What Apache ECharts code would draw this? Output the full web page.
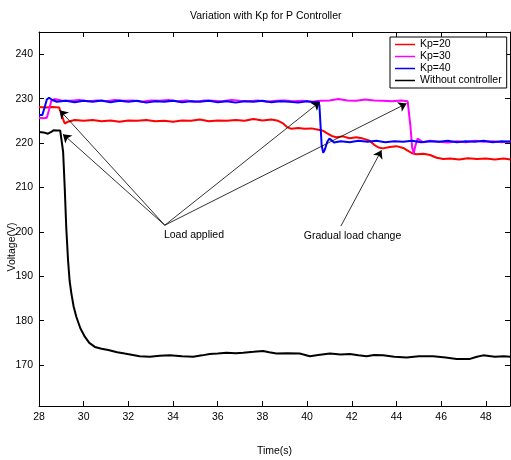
<!DOCTYPE html>
<html><head><meta charset="utf-8">
<script src="https://cdn.jsdelivr.net/npm/echarts@6/dist/echarts.min.js"></script>
<style>html,body{margin:0;padding:0;background:#fff}#c{width:511px;height:460px}</style>
</head><body><div id="c"></div>
<script>
const xTicks = [28,30,32,34,36,38,40,42,44,46,48];
const seriesNames = ['Kp=20','Kp=30','Kp=40','Without controller'];
const kp20 = [[28.0,228.1],[28.3,228.0],[28.6,228.1],[28.9,228.0],[29.0,226.5],[29.15,224.4],[29.3,224.8],[29.6,225.2],[30.0,225.0],[30.4,225.2],[30.8,224.9],[31.2,225.1],[31.6,224.8],[32.0,225.1],[32.4,225.0],[32.8,225.2],[33.2,224.9],[33.6,225.0],[34.0,224.8],[34.4,225.1],[34.8,225.0],[35.2,225.3],[35.6,224.9],[36.0,225.1],[36.4,225.0],[36.8,225.2],[37.2,225.0],[37.6,225.4],[38.0,225.1],[38.4,225.3],[38.7,225.0],[38.9,224.5],[39.1,223.6],[39.3,223.2],[39.6,223.4],[39.9,223.2],[40.2,223.3],[40.5,223.0],[40.7,222.8],[40.9,222.2],[41.1,221.6],[41.3,221.3],[41.6,221.5],[41.9,221.1],[42.2,221.3],[42.5,221.0],[42.8,220.5],[43.0,219.6],[43.2,219.0],[43.4,218.8],[43.7,219.1],[44.0,219.3],[44.3,218.9],[44.5,218.3],[44.7,217.7],[44.9,217.5],[45.2,217.6],[45.5,217.3],[45.8,216.7],[46.1,216.4],[46.4,216.5],[46.8,216.3],[47.2,216.6],[47.6,216.4],[48.0,216.5],[48.4,216.3],[48.8,216.5],[49.1,216.3]];
const kp30 = [[28.0,225.7],[28.2,225.6],[28.35,225.7],[28.45,227.5],[28.55,229.5],[28.7,229.9],[29.0,229.6],[29.4,229.5],[29.8,229.7],[30.2,229.4],[30.6,229.6],[31.0,229.4],[31.4,229.7],[31.8,229.5],[32.2,229.6],[32.6,229.3],[33.0,229.6],[33.4,229.5],[33.8,229.7],[34.2,229.4],[34.6,229.6],[35.0,229.3],[35.4,229.6],[35.8,229.5],[36.2,229.4],[36.6,229.7],[37.0,229.5],[37.4,229.4],[37.8,229.6],[38.2,229.3],[38.6,229.5],[39.0,229.6],[39.4,229.4],[39.8,229.5],[40.2,229.3],[40.6,229.5],[41.0,229.6],[41.4,229.9],[41.8,229.6],[42.2,229.5],[42.6,229.8],[43.0,229.6],[43.4,229.5],[43.8,229.4],[44.2,229.6],[44.5,229.4],[44.55,229.0],[44.62,224.0],[44.7,219.0],[44.77,217.7],[44.85,219.5],[44.95,221.0],[45.05,220.6],[45.2,220.2],[45.5,220.5],[45.9,220.3],[46.3,220.1],[46.7,220.4],[47.1,220.2],[47.5,220.5],[47.9,220.3],[48.3,220.4],[48.7,220.2],[49.1,220.4]];
const kp40 = [[28.0,226.3],[28.15,226.3],[28.25,228.0],[28.35,229.8],[28.45,230.2],[28.6,229.7],[28.8,229.3],[29.2,229.5],[29.6,229.2],[30.0,229.5],[30.4,229.3],[30.8,229.6],[31.2,229.2],[31.6,229.5],[32.0,229.3],[32.4,229.5],[32.8,229.1],[33.2,229.4],[33.6,229.3],[34.0,229.5],[34.4,229.2],[34.8,229.4],[35.2,229.3],[35.6,229.5],[36.0,229.2],[36.4,229.4],[36.8,229.1],[37.2,229.4],[37.6,229.3],[38.0,229.5],[38.4,229.2],[38.8,229.4],[39.2,229.3],[39.6,229.1],[40.0,229.4],[40.3,229.2],[40.5,229.3],[40.55,228.5],[40.6,224.0],[40.65,219.5],[40.72,217.8],[40.8,218.6],[40.9,220.3],[41.0,221.0],[41.1,220.6],[41.2,220.1],[41.5,220.4],[41.9,220.2],[42.3,220.5],[42.7,220.3],[43.1,220.5],[43.5,220.2],[43.9,220.4],[44.3,220.3],[44.7,220.5],[45.1,220.2],[45.5,220.4],[45.9,220.3],[46.3,220.5],[46.7,220.2],[47.1,220.4],[47.5,220.3],[47.9,220.5],[48.3,220.2],[48.7,220.4],[49.1,220.3]];
const noCtrl = [[28.0,222.5],[28.2,222.4],[28.4,222.1],[28.55,222.5],[28.65,222.9],[28.8,222.8],[28.95,222.8],[29.0,222.6],[29.08,218.0],[29.15,210.1],[29.22,201.0],[29.3,193.6],[29.37,189.0],[29.45,186.1],[29.55,183.2],[29.67,180.9],[29.85,178.3],[30.05,176.4],[30.25,175.0],[30.5,174.1],[30.8,173.7],[31.1,173.4],[31.5,172.9],[31.84,172.6],[32.2,172.3],[32.5,172.0],[32.96,171.9],[33.4,172.1],[33.85,172.25],[34.4,172.0],[34.9,171.9],[35.3,172.2],[35.64,172.5],[36.0,172.6],[36.39,172.8],[36.8,172.7],[37.14,172.8],[37.6,173.0],[38.03,173.2],[38.3,172.9],[38.63,172.6],[39.1,172.7],[39.67,172.6],[40.12,172.0],[40.5,172.3],[41.02,172.6],[41.5,172.4],[41.91,172.5],[42.3,172.2],[42.66,172.0],[43.0,172.3],[43.4,172.2],[43.9,171.9],[44.45,171.7],[45.0,172.0],[45.64,172.0],[46.2,171.7],[46.69,171.4],[47.29,171.4],[47.6,171.9],[47.88,172.2],[48.4,171.9],[48.8,172.0],[49.1,171.9]];
const arrows = [
  [[33.63,201.5],[28.93,227.4]],
  [[33.63,201.5],[29.07,222.0]],
  [[33.63,201.5],[40.57,229.26]],
  [[33.63,201.5],[44.45,228.9]],
  [[41.51,201.3],[43.33,218.4]]
];
const notes = [
  {text:'Load applied', at:[33.59,199.3]},
  {text:'Gradual load change', at:[39.85,199.0]}
];
const colors = ['#ff0000','#ff00ff','#0000ff','#000000'];
const dataSets = [kp20,kp30,kp40,noCtrl];
const FONT = 'Liberation Sans, Arial, Helvetica, sans-serif';
const FS = 10.5;

const chart = echarts.init(document.getElementById('c'), null, {renderer:'canvas'});
const series = dataSets.map((d,i)=>({
  name: seriesNames[i], type:'line', data:d, symbol:'none', showSymbol:false,
  lineStyle:{color:colors[i], width:2}, itemStyle:{color:colors[i]},
  animation:false, silent:true, z: 2+i
}));
series[3].markLine = {
  silent:true, animation:false, symbol:['none','arrow'], symbolSize:8,
  lineStyle:{color:'#000', width:0.8, type:'solid'}, itemStyle:{color:'#000'}, label:{show:false},
  data: arrows.map(a=>[{coord:a[0]},{coord:a[1]}])
};
series[3].markPoint = {
  silent:true, animation:false, symbol:'circle', symbolSize:0,
  data: notes.map(n=>({coord:n.at, value:n.text,
    label:{show:true, position:'right', distance:0, formatter:n.text, color:'#000', fontSize:FS, fontFamily:FONT}}))
};
const axisCommon = {axisLine:{show:true, lineStyle:{color:'#000', width:1}}, splitLine:{show:false}};
chart.setOption({
  animation:false,
  backgroundColor:'#fff',
  title:{text:'Variation with Kp for P Controller', left:190, top:11, padding:0,
    textStyle:{fontSize:FS, fontWeight:'normal', color:'#000', fontFamily:FONT}},
  legend:{data:seriesNames, orient:'vertical', left:390, top:37, icon:'rect', itemWidth:20, itemHeight:1.5, itemGap:0,
    padding:[1.5,5,1.5,5], borderColor:'#000', borderWidth:1, backgroundColor:'#fff',
    textStyle:{fontSize:FS, lineHeight:12, color:'#000', fontFamily:FONT}, selectedMode:false},
  grid:{left:39, right:1, top:32, bottom:54, containLabel:false, outerBoundsMode:'none'},
  xAxis:[
    Object.assign({type:'value', position:'bottom', min:28, max:49.08, interval:2,
      name:'Time(s)', nameLocation:'middle', nameGap:40, nameMoveOverlap:false,
      nameTextStyle:{fontSize:FS, color:'#000', fontFamily:FONT},
      axisTick:{inside:true, length:5, lineStyle:{color:'#000'}},
      axisLabel:{margin:6, fontSize:FS, color:'#000', fontFamily:FONT, showMaxLabel:false,
        formatter:v=> xTicks.indexOf(v)>=0 ? String(v) : ''}}, axisCommon),
    Object.assign({type:'value', position:'top', min:28, max:49.08, interval:2,
      axisTick:{inside:true, length:5, lineStyle:{color:'#000'}}, axisLabel:{show:false}}, axisCommon)
  ],
  yAxis:[
    Object.assign({type:'value', position:'left', min:160.8, max:245, splitNumber:8,
      name:'Voltage(V)', nameLocation:'middle', nameGap:21, nameMoveOverlap:false,
      nameTextStyle:{fontSize:FS, color:'#000', fontFamily:FONT, padding:[0,56,0,0]},
      axisTick:{inside:true, length:5, lineStyle:{color:'#000'}},
      axisLabel:{margin:6, fontSize:FS, color:'#000', fontFamily:FONT, showMinLabel:false, showMaxLabel:false,
        formatter:v=> (v%10===0) ? String(v) : ''}}, axisCommon),
    Object.assign({type:'value', position:'right', min:160.8, max:245, splitNumber:8,
      axisTick:{inside:true, length:5, lineStyle:{color:'#000'}}, axisLabel:{show:false}}, axisCommon)
  ],
  series: series
});
</script></body></html>
